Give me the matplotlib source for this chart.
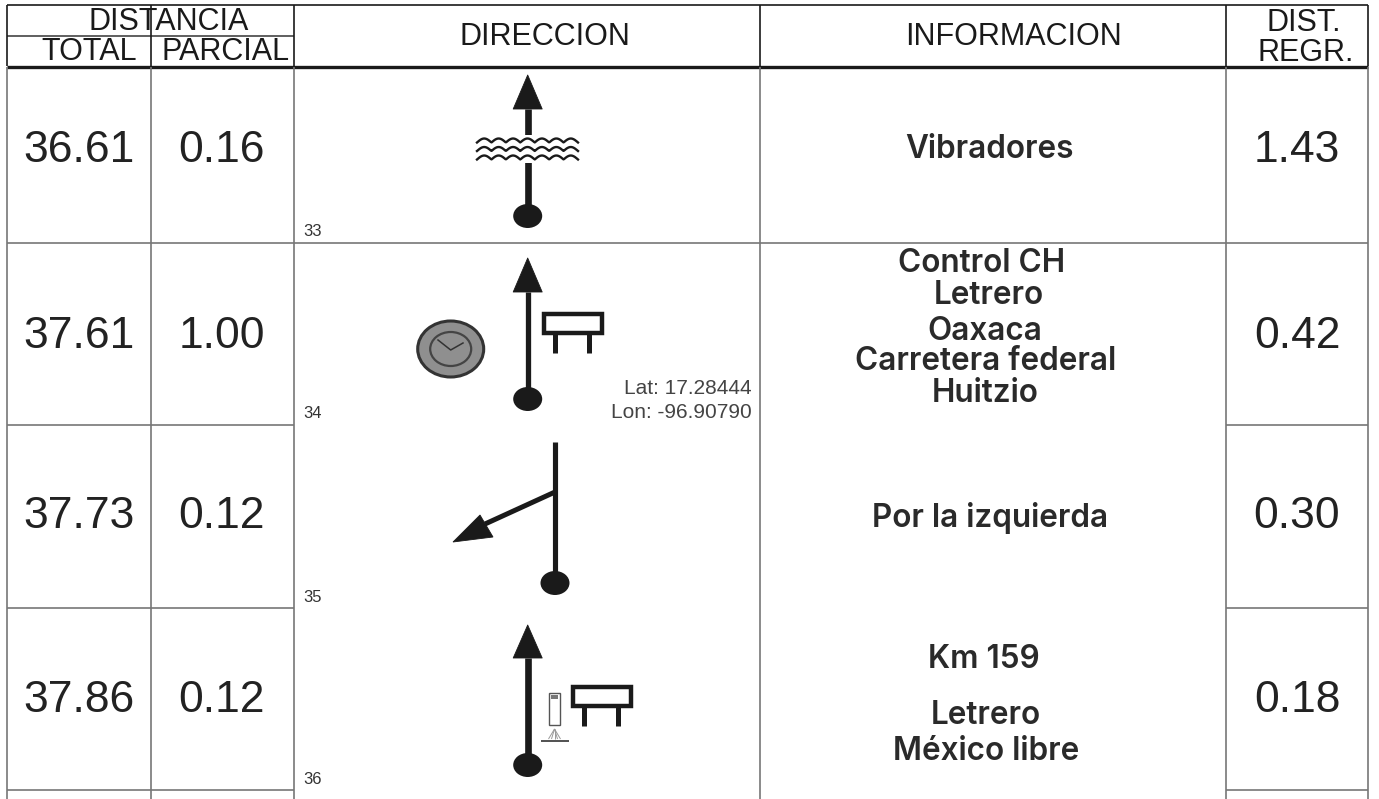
import matplotlib
matplotlib.use("Agg")
import matplotlib.pyplot as plt
from matplotlib.patches import Ellipse, Polygon, Rectangle
import numpy as np

total = ["36.61", "37.61", "37.73", "37.86"]
parcial = ["0.16", "1.00", "0.12", "0.12"]
regr = ["1.43", "0.42", "0.30", "0.18"]
numero = ["33", "34", "35", "36"]
info = [["Vibradores"],
        ["Control CH", "Letrero", "Oaxaca", "Carretera federal", "Huitzio"],
        ["Por la izquierda"],
        ["Km 159", "Letrero", "México libre"]]
info_y = [[150],
          [264, 296, 331, 361, 394],
          [518],
          [660, 715, 751]]
info_x = [[989],
          [982, 989, 985, 986, 985],
          [990],
          [984, 986, 986]]
coords = ["Lat: 17.28444", "Lon: -96.90790"]

# filas, en pixeles de la imagen
fila_y = [66, 243, 425, 608, 790]
valor_y = [150, 336, 517, 700]
num_y = [232, 414, 598, 780]
col_x = [7, 151, 294, 760, 1226, 1368]
negro = "#1a1a1a"
gris = "#777777"

fig = plt.figure(figsize=(13.79, 7.99), dpi=100)
ax = fig.add_axes([0, 0, 1, 1])
ax.set_xlim(0, 1379)
ax.set_ylim(799, 0)
ax.axis("off")

HELV = "Liberation Sans"
INFO = "Inter"

def linea(xs, ys, color=gris, lw=1.2):
    ax.plot(xs, ys, color=color, lw=lw, solid_capstyle="butt")

# cabecera
linea([7, 1368], [5, 5], negro, 1.2)
linea([7, 294], [35.5, 35.5], "#444444", 1.2)
linea([7, 1368], [66.5, 66.5], negro, 2.4)
for x in col_x:
    linea([x, x], [5, 66], negro, 1.2)

# textos de cabecera
def cab(x, y, t, size=22):
    ax.text(x, y, t, fontsize=size, family=HELV, ha="center", va="center", color=negro)

cab(169, 22, "DISTANCIA")
cab(89, 52, "TOTAL")
cab(226, 52, "PARCIAL")
cab(545, 37, "DIRECCION")
cab(1013, 37, "INFORMACION")
cab(1304, 23, "DIST.")
cab(1306, 53, "REGR.")

# rejilla
for x in col_x:
    linea([x, x], [67, 799])
linea([7, 1368], [243, 243])
for y in fila_y[2:]:
    linea([7, 294], [y, y])
    linea([1226, 1368], [y, y])

# valores
for i in range(4):
    y = valor_y[i]
    ax.text(79, y, total[i], fontsize=32, family=HELV, ha="center", va="center", color="#222222")
    ax.text(222, y, parcial[i], fontsize=32, family=HELV, ha="center", va="center", color="#222222")
    ax.text(1297, y, regr[i], fontsize=32, family=HELV, ha="center", va="center", color="#222222")
    ax.text(303, num_y[i], numero[i], fontsize=12, family=HELV, ha="left", va="center", color="#333333")
    for t, tx, ty in zip(info[i], info_x[i], info_y[i]):
        ax.text(tx, ty, t, fontsize=22.7, family=INFO, weight="semibold", ha="center", va="center", color="#2a2a2a")

ax.text(752, 388, coords[0], fontsize=15, family=HELV, ha="right", va="center", color="#444444")
ax.text(752, 412, coords[1], fontsize=15, family=HELV, ha="right", va="center", color="#444444")

# simbolos
def punto(x, y):
    ax.add_patch(Ellipse((x, y), 29, 24, fc=negro, ec="none", zorder=4))

def flecha(x, y_tip, y_base, y_punto, lw):
    ax.add_patch(Polygon([(x, y_tip), (x - 14.5, y_base), (x + 14.5, y_base)], closed=True,
                         fc=negro, ec=negro, lw=0.6, joinstyle="round", zorder=4))
    linea([x, x], [y_base, y_punto], negro, lw)
    punto(x, y_punto)

def letrero(x, y):
    ax.add_patch(Rectangle((x + 2, y + 2), 58, 19, fc="none", ec=negro, lw=3.2, zorder=4))
    linea([x + 13, x + 13], [y + 21, y + 41], negro, 3.6)
    linea([x + 47, x + 47], [y + 21, y + 41], negro, 3.6)

# 33 flecha y vado
flecha(527.7, 75, 109, 216, 4.8)
ax.add_patch(Rectangle((475, 135), 105, 28, fc="white", ec="none", zorder=5))
ondas = np.linspace(0, 1, 160)
for oy in [142.5, 151, 159.5]:
    xs = 477 + ondas * 101
    ax.plot(xs, oy - 4 * np.abs(np.sin(ondas * 7 * np.pi)), color=negro, lw=1.7, zorder=6)

# 34 flecha, reloj y letrero
flecha(527.7, 258, 292, 399, 3.8)
letrero(542, 312)
ax.add_patch(Ellipse((450.7, 349), 66, 56, fc="#8f8f8f", ec="#333333", lw=2.2, zorder=4))
ax.add_patch(Ellipse((450.7, 349), 41, 34, fc="none", ec="#444444", lw=1.6, zorder=5))
ax.plot([438, 450.7, 463], [340, 350, 343], color="#333333", lw=1.1, zorder=5)

# 35 giro a la izquierda
linea([555, 555], [442, 582], negro, 3.7)
linea([555, 485], [492, 524], negro, 3.6)
ax.add_patch(Polygon([(453, 542), (480, 515), (493, 537)], closed=True, fc=negro, ec=negro, lw=0.6, zorder=4))
punto(555, 583)

# 36 flecha, poste y letrero
flecha(527.7, 625, 658, 765, 4.8)
letrero(571, 685)
ax.add_patch(Rectangle((549, 693), 11, 32, fc="white", ec="#555555", lw=1.0, zorder=4))
ax.add_patch(Rectangle((551, 695), 7, 4, fc="#777777", ec="none", zorder=5))
linea([541, 569], [741, 741], "#333333", 1.2)
for dx in [-6, -3, 0, 3, 6]:
    linea([554.5, 554.5 + dx], [729, 739], "#999999", 0.7)

fig.savefig("out.png", dpi=100)
